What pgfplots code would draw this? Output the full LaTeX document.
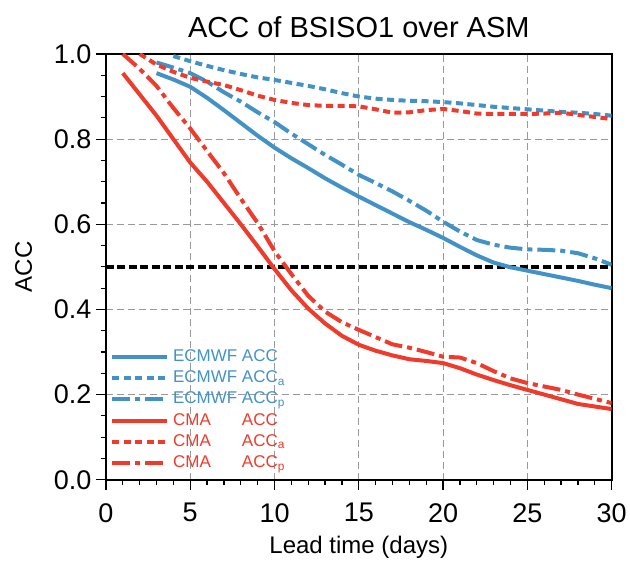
\documentclass[border=0pt]{standalone}
\usepackage{pgfplots}
\pgfplotsset{compat=1.18}
\usepackage{fontspec}
\setmainfont{Liberation Sans}
\definecolor{cblue}{HTML}{4292C6}
\definecolor{cred}{HTML}{EF3B2C}
\begin{document}
\begin{tikzpicture}
\begin{axis}[
  scale only axis, width=506pt, height=426pt,
  xmin=0, xmax=30, ymin=0, ymax=1,
  xtick={0,5,10,15,20,25,30}, ytick={0,0.2,0.4,0.6,0.8,1},
  minor x tick num=4, minor y tick num=3,
  tick align=outside, major tick length=10pt, minor tick length=5pt,
  xtick pos=bottom, ytick pos=left,
  every tick/.style={black, line width=1.2pt},
  axis line style={line width=1.8pt},
  grid=major,
  major grid style={black!40, line width=0.9pt, dash pattern=on 7pt off 4pt},
  /pgf/number format/assume math mode=true,
  yticklabel style={/pgf/number format/fixed, /pgf/number format/fixed zerofill, /pgf/number format/precision=1, xshift=-1pt},
  xticklabel style={yshift=-10pt},
  ticklabel style={font=\fontsize{27}{30}\selectfont},
  title={ACC of BSISO1 over ASM},
  title style={font=\fontsize{29}{32}\selectfont, at={(axis description cs:0.5,1)}, anchor=base, yshift=10pt},
  xlabel={Lead time (days)},
  xlabel style={font=\fontsize{24}{28}\selectfont, at={(axis description cs:0.5,0)}, anchor=base, yshift=-74pt},
  ylabel={ACC},
  ylabel style={font=\fontsize{24}{28}\selectfont, at={(axis description cs:0,0.5)}, anchor=base, yshift=74pt},
  legend cell align=left,
  legend image code/.code={\draw[#1] (0pt,0pt) -- (55pt,0pt);},
  legend style={draw=none, fill=none, at={(rel axis cs:0,0)}, anchor=south west, xshift=1pt, yshift=5pt,
    font=\fontsize{17}{20}\selectfont, row sep=2.2pt,
    nodes={inner sep=1pt, text height=13pt, text depth=4pt},
    /tikz/every odd column/.append style={column sep=3pt}},
]
\addplot[black, line width=3.5pt, dash pattern=on 8pt off 3.5pt, forget plot] coordinates {(0,0.5) (30,0.5)};
% ECMWF ACC
\addplot[cblue, line width=4pt] coordinates {
(3,0.955) (4,0.94) (5,0.923) (6,0.897) (7,0.868) (8,0.838) (9,0.808) (10,0.78) (11,0.755) (12,0.732) (13,0.708) (14,0.686) (15,0.665) (16,0.645) (17,0.625) (18,0.605) (19,0.587) (20,0.568) (21,0.547) (22,0.527) (23,0.51) (24,0.499) (25,0.491) (26,0.483) (27,0.475) (28,0.467) (29,0.458) (30,0.45)};
\addlegendentry{\textcolor{cblue}{ECMWF ACC}}
% ECMWF ACC_a
\addplot[cblue, line width=4pt, dash pattern=on 7pt off 4.5pt] coordinates {
(4,0.995) (5,0.983) (6,0.972) (7,0.962) (8,0.953) (9,0.945) (10,0.939) (11,0.932) (12,0.925) (13,0.917) (14,0.908) (15,0.9) (16,0.895) (17,0.892) (18,0.89) (19,0.889) (20,0.887) (21,0.884) (22,0.88) (23,0.876) (24,0.873) (25,0.87) (26,0.867) (27,0.864) (28,0.862) (29,0.859) (30,0.855)};
\addlegendentry{\textcolor{cblue}{ECMWF ACC\textsubscript{a}}}
% ECMWF ACC_p
\addplot[cblue, line width=4pt, dash pattern=on 18pt off 5pt on 5pt off 5pt] coordinates {
(3,0.98) (4,0.968) (5,0.955) (6,0.935) (7,0.91) (8,0.888) (9,0.863) (10,0.84) (11,0.813) (12,0.788) (13,0.763) (14,0.74) (15,0.716) (16,0.697) (17,0.677) (18,0.655) (19,0.632) (20,0.606) (21,0.583) (22,0.563) (23,0.552) (24,0.545) (25,0.541) (26,0.54) (27,0.538) (28,0.532) (29,0.52) (30,0.505)};
\addlegendentry{\textcolor{cblue}{ECMWF ACC\textsubscript{p}}}
% CMA ACC
\addplot[cred, line width=4pt] coordinates {
(1,0.955) (2,0.905) (3,0.855) (4,0.8) (5,0.745) (6,0.7) (7,0.65) (8,0.6) (9,0.548) (10,0.495) (11,0.445) (12,0.402) (13,0.367) (14,0.338) (15,0.317) (16,0.303) (17,0.292) (18,0.283) (19,0.279) (20,0.274) (21,0.262) (22,0.247) (23,0.234) (24,0.222) (25,0.211) (26,0.2) (27,0.189) (28,0.178) (29,0.172) (30,0.166)};
\addlegendentry{\textcolor{cred}{\rlap{CMA}\hphantom{ECMWF\ }ACC}}
% CMA ACC_a
\addplot[cred, line width=4pt, dash pattern=on 7pt off 4.5pt] coordinates {
(2,1.0) (3,0.975) (4,0.958) (5,0.944) (6,0.935) (7,0.927) (8,0.915) (9,0.902) (10,0.892) (11,0.885) (12,0.88) (13,0.878) (14,0.878) (15,0.877) (16,0.87) (17,0.862) (18,0.863) (19,0.868) (20,0.871) (21,0.866) (22,0.86) (23,0.859) (24,0.859) (25,0.859) (26,0.86) (27,0.862) (28,0.857) (29,0.852) (30,0.847)};
\addlegendentry{\textcolor{cred}{\rlap{CMA}\hphantom{ECMWF\ }ACC\textsubscript{a}}}
% CMA ACC_p
\addplot[cred, line width=4pt, dash pattern=on 18pt off 5pt on 5pt off 5pt] coordinates {
(1,1.0) (2,0.965) (3,0.925) (4,0.873) (5,0.825) (6,0.772) (7,0.72) (8,0.66) (9,0.603) (10,0.537) (11,0.483) (12,0.432) (13,0.395) (14,0.37) (15,0.352) (16,0.335) (17,0.318) (18,0.31) (19,0.3) (20,0.289) (21,0.287) (22,0.274) (23,0.255) (24,0.238) (25,0.227) (26,0.219) (27,0.211) (28,0.2) (29,0.19) (30,0.18)};
\addlegendentry{\textcolor{cred}{\rlap{CMA}\hphantom{ECMWF\ }ACC\textsubscript{p}}}
\end{axis}
\path (-106pt,-80pt) rectangle (524pt,480pt);
\end{tikzpicture}
\end{document}
